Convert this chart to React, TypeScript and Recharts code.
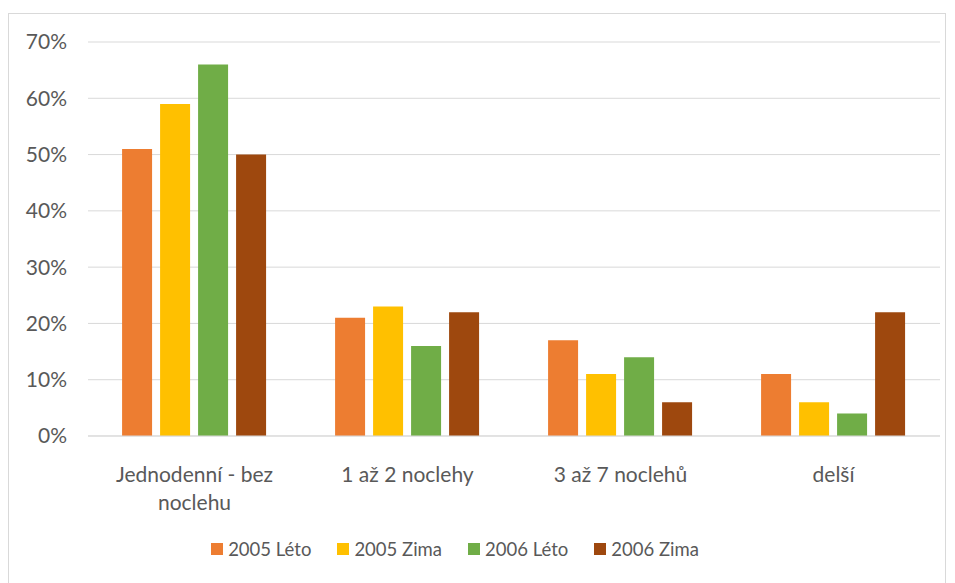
import { BarChart, Bar, XAxis, YAxis, CartesianGrid } from 'recharts';

const categories = ['Jednodenní - bez noclehu', '1 až 2 noclehy', '3 až 7 noclehů', 'delší'];
const leto2005 = [51, 21, 17, 11];
const zima2005 = [59, 23, 11, 6];
const leto2006 = [66, 16, 14, 4];
const zima2006 = [50, 22, 6, 22];
const yTicks = [0, 10, 20, 30, 40, 50, 60, 70];

const series = [
  { key: 'l2005', name: '2005 Léto', color: '#ED7D31' },
  { key: 'z2005', name: '2005 Zima', color: '#FFC000' },
  { key: 'l2006', name: '2006 Léto', color: '#70AD47' },
  { key: 'z2006', name: '2006 Zima', color: '#9E480E' },
];

const data = categories.map((c, i) => ({
  cat: c,
  l2005: leto2005[i],
  z2005: zima2005[i],
  l2006: leto2006[i],
  z2006: zima2006[i],
}));

const FONT = 'Lato, "Open Sans", sans-serif';
const TEXT = '#595959';

// wrap category text into lines of roughly maxChars
function wrap(label: string, maxChars: number) {
  const words = label.split(' ');
  const lines: string[] = [];
  let cur = '';
  for (const w of words) {
    const next = cur ? cur + ' ' + w : w;
    if (next.length > maxChars && cur) {
      lines.push(cur);
      cur = w;
    } else {
      cur = next;
    }
  }
  if (cur) lines.push(cur);
  return lines;
}

function CatTick(props: any) {
  const { x, y, payload } = props;
  const lines = wrap(payload.value, 17);
  return (
    <text x={x} y={y} textAnchor="middle" fill={TEXT} fontSize={21} fontFamily={FONT}>
      {lines.map((l, i) => (
        <tspan key={i} x={x} dy={i === 0 ? 38 : 28}>{l}</tspan>
      ))}
    </text>
  );
}

function LegendBox() {
  return (
    <div style={{ position: 'absolute', left: 0, right: 44, top: 524, display: 'flex', justifyContent: 'center', gap: 26, fontFamily: FONT, fontSize: 18.5, color: TEXT }}>
      {series.map(s => (
        <div key={s.key} style={{ display: 'flex', alignItems: 'center', gap: 5 }}>
          <span style={{ width: 12, height: 12, background: s.color, display: 'inline-block' }} />
          <span>{s.name}</span>
        </div>
      ))}
    </div>
  );
}

export default function App() {
  return (
    <div style={{ position: 'relative', marginTop: 5, width: 936, height: 575, border: '1px solid #D9D9D9', background: '#fff' }}>
      <BarChart
        width={936}
        height={575}
        data={data}
        margin={{ top: 28, right: 5, bottom: 53, left: 0 }}
        barCategoryGap="16%"
        barGap={8}
      >
        <CartesianGrid vertical={false} stroke="#D9D9D9" strokeWidth={1} />
        <XAxis
          dataKey="cat"
          axisLine={{ stroke: '#D9D9D9' }}
          tickLine={false}
          interval={0}
          tick={<CatTick />}
          height={100}
        />
        <YAxis
          domain={[0, 70]}
          ticks={yTicks}
          width={79}
          axisLine={false}
          tickLine={false}
          tickSize={0}
          tickMargin={21}
          tickFormatter={(v: number) => v + '%'}
          tick={{ fill: TEXT, fontSize: 21, fontFamily: FONT }}
        />
        {series.map(s => (
          <Bar key={s.key} dataKey={s.key} name={s.name} fill={s.color} isAnimationActive={false} />
        ))}
      </BarChart>
      <LegendBox />
    </div>
  );
}
